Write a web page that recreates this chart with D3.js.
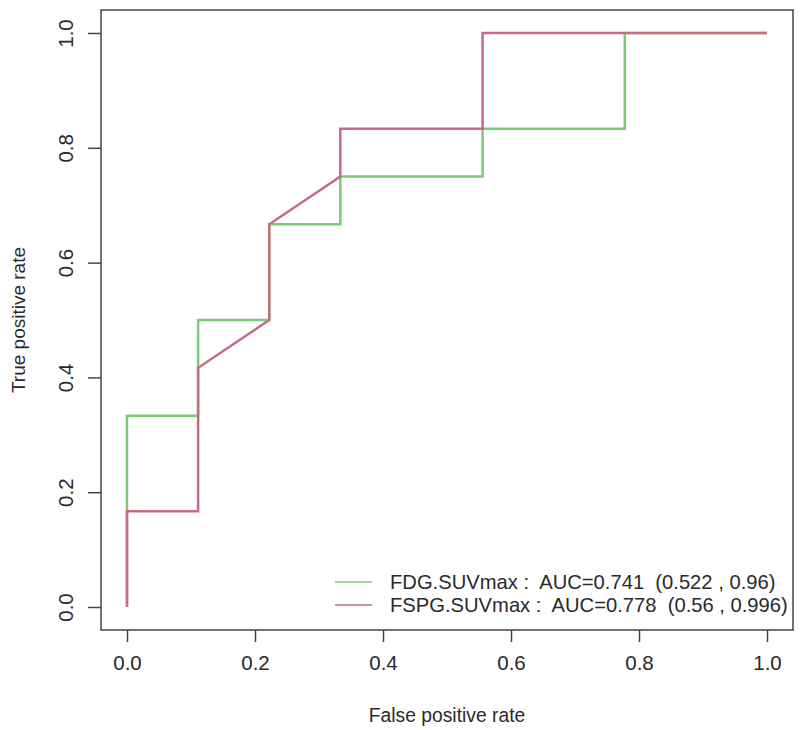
<!DOCTYPE html>
<html><head><meta charset="utf-8">
<script src="https://cdn.jsdelivr.net/npm/d3@7"></script>
<style>body{margin:0;background:#fff;} text{font-family:"Liberation Sans",Arial,sans-serif;}</style>
</head><body>
<svg id="c" width="800" height="730"></svg>
<script>
const fdgFpr = [0, 0, 0.1111, 0.1111, 0.2222, 0.2222, 0.3333, 0.3333, 0.5556, 0.5556, 0.7778, 0.7778, 1];
const fdgTpr = [0, 0.3333, 0.3333, 0.5, 0.5, 0.6667, 0.6667, 0.75, 0.75, 0.8333, 0.8333, 1, 1];
const fspgFpr = [0, 0, 0.1111, 0.1111, 0.2222, 0.2222, 0.3333, 0.3333, 0.5556, 0.5556, 1];
const fspgTpr = [0, 0.1667, 0.1667, 0.4167, 0.5, 0.6667, 0.75, 0.8333, 0.8333, 1, 1];
const tickValues = [0, 0.2, 0.4, 0.6, 0.8, 1.0];
const seriesNames = ["FDG.SUVmax :  AUC=0.741  (0.522 , 0.96)", "FSPG.SUVmax :  AUC=0.778  (0.56 , 0.996)"];
const seriesColors = ["#7ccb74", "#c96b80"];
const xTitle = "False positive rate", yTitle = "True positive rate";

const svg = d3.select("#c");
const x = d3.scaleLinear().domain([0, 1]).range([127, 767]);
const y = d3.scaleLinear().domain([0, 1]).range([607, 33]);
const box = {l: 101, r: 793, t: 10, b: 630};

const axisColor = "#444";
const txtColor = "#2a2a2a";
svg.append("rect").attr("x", box.l).attr("y", box.t).attr("width", box.r - box.l).attr("height", box.b - box.t)
  .attr("fill", "none").attr("stroke", axisColor).attr("stroke-width", 1.5);

const fmt = d3.format(".1f");
const xAx = svg.append("g").attr("transform", `translate(0,${box.b})`)
  .call(d3.axisBottom(x).tickValues(tickValues).tickFormat(fmt).tickSize(12).tickPadding(13));
xAx.select(".domain").remove();
xAx.selectAll("line").attr("stroke", axisColor).attr("stroke-width", 1.5);
xAx.selectAll("text").attr("font-size", 20.5).attr("fill", txtColor).attr("font-family", "Liberation Sans, Arial, sans-serif");

const yAx = svg.append("g").attr("transform", `translate(${box.l},0)`)
  .call(d3.axisLeft(y).tickValues(tickValues).tickFormat(fmt).tickSize(13).tickPadding(0));
yAx.select(".domain").remove();
yAx.selectAll("line").attr("stroke", axisColor).attr("stroke-width", 1.5);
yAx.selectAll("text").attr("font-size", 20.5).attr("fill", txtColor).attr("font-family", "Liberation Sans, Arial, sans-serif")
  .attr("text-anchor", "middle").attr("x", 0).attr("dy", 0)
  .attr("transform", "translate(-28,0) rotate(-90)");

svg.append("text").attr("x", (box.l + box.r) / 2).attr("y", 722).attr("text-anchor", "middle")
  .attr("font-size", 19.3).attr("fill", txtColor).text(xTitle);
svg.append("text").attr("transform", `translate(25,${(box.t + box.b) / 2}) rotate(-90)`).attr("text-anchor", "middle")
  .attr("font-size", 19).attr("fill", txtColor).text(yTitle);

const line = d3.line().x(d => x(d[0])).y(d => y(d[1]));
const series = [d3.zip(fdgFpr, fdgTpr), d3.zip(fspgFpr, fspgTpr)];
series.forEach((s, i) => {
  svg.append("path").datum(s).attr("d", line).attr("fill", "none")
    .attr("stroke", seriesColors[i]).attr("stroke-width", 2.5).attr("stroke-linejoin", "miter");
});

const lg = svg.append("g");
seriesNames.forEach((n, i) => {
  const yy = 582 + i * 23;
  lg.append("line").attr("x1", 335).attr("x2", 372).attr("y1", yy).attr("y2", yy)
    .attr("stroke", seriesColors[i]).attr("stroke-width", 1.5);
  lg.append("text").attr("x", 390).attr("y", yy + 7).attr("font-size", 20.2).attr("fill", txtColor)
    .attr("xml:space", "preserve").style("white-space", "pre").text(n);
});
</script>
</body></html>
